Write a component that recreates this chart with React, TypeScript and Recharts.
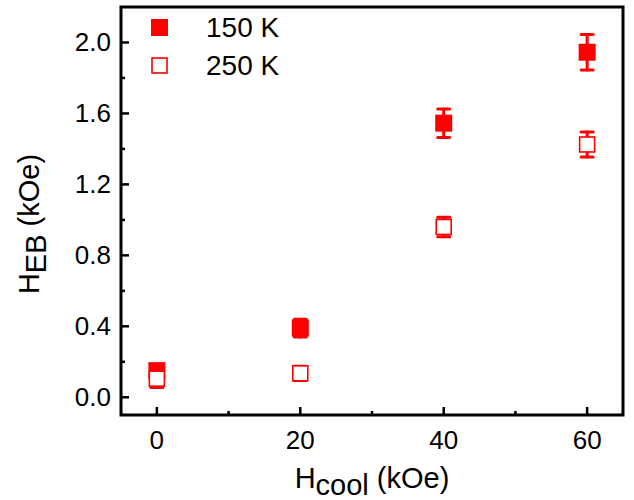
import { ScatterChart, Scatter, XAxis, YAxis, ErrorBar, ReferenceArea, Legend, Label } from 'recharts'

const hCool = [0, 20, 40, 60]
const heb150 = [0.15, 0.39, 1.545, 1.945]
const err150 = [0.03, 0.05, 0.08, 0.1]
const heb250 = [0.105, 0.135, 0.96, 1.425]
const err250 = [0.05, 0.04, 0.055, 0.07]

const xTicks = [0, 10, 20, 30, 40, 50, 60]
const xMajor = [0, 20, 40, 60]
const yTicks = [0, 0.2, 0.4, 0.6, 0.8, 1.0, 1.2, 1.4, 1.6, 1.8, 2.0]
const yMajor = [0, 0.4, 0.8, 1.2, 1.6, 2.0]

const data150 = hCool.map((x, i) => ({ x, y: heb150[i], err: err150[i] }))
const data250 = hCool.map((x, i) => ({ x, y: heb250[i], err: err250[i] }))

const RED = '#ff0000'
const FONT = '"Liberation Sans", Arial, sans-serif'

const FilledSquare = (p: any) => (
  <rect x={p.cx - 8.5} y={p.cy - 8.5} width={17} height={17} fill={RED} />
)
const OpenSquare = (p: any) => (
  <rect x={p.cx - 7.5} y={p.cy - 7.5} width={15} height={15} fill="#fff" stroke={RED} strokeWidth={1.6} />
)

const XTick = (props: any) => {
  const { x, y, payload } = props
  const major = xMajor.includes(payload.value)
  return (
    <g>
      <line x1={x} y1={y} x2={x} y2={y - (major ? 8 : 4)} stroke="#000" strokeWidth={2.5} />
      {major && (
        <text x={x} y={y + 34} textAnchor="middle" fontSize={26} fill="#000">
          {payload.value}
        </text>
      )}
    </g>
  )
}

const YTick = (props: any) => {
  const { x, y, payload } = props
  const major = yMajor.some((v) => Math.abs(v - payload.value) < 1e-6)
  return (
    <g>
      <line x1={x} y1={y} x2={x + (major ? 8 : 4)} y2={y} stroke="#000" strokeWidth={2.5} />
      {major && (
        <text x={x - 10} y={y + 9} textAnchor="end" fontSize={26} fill="#000">
          {payload.value.toFixed(1)}
        </text>
      )}
    </g>
  )
}

const legendItems = [
  { name: '150 K', filled: true },
  { name: '250 K', filled: false },
]

const LegendBox = () => (
  <div style={{ fontFamily: FONT, fontSize: 28, color: '#000' }}>
    {legendItems.map((it) => (
      <div key={it.name} style={{ display: 'flex', alignItems: 'center', height: 38 }}>
        <svg width={56} height={20}>
          {it.filled ? (
            <rect x={1} y={1} width={17} height={17} fill={RED} />
          ) : (
            <rect x={2} y={2} width={15} height={15} fill="#fff" stroke={RED} strokeWidth={1.6} />
          )}
        </svg>
        <span>{it.name}</span>
      </div>
    ))}
  </div>
)

export default function App() {
  return (
    <div style={{ position: 'absolute', left: 0, top: 0, background: '#fff' }}>
      <ScatterChart
        width={634}
        height={500}
        margin={{ top: 7, right: 11, bottom: 0, left: 0 }}
        style={{ fontFamily: FONT }}
      >
        <XAxis
          type="number"
          dataKey="x"
          domain={[-5, 65]}
          ticks={xTicks}
          interval={0}
          tickSize={0}
          tickMargin={0}
          axisLine={false}
          tickLine={false}
          tick={<XTick />}
          height={85}
        >
          <Label
            content={(p: any) => {
              const vb = p.viewBox
              return (
                <text x={vb.x + vb.width / 2} y={vb.y + 73} textAnchor="middle" fontSize={29} fill="#000">
                  H<tspan dy={7}>cool</tspan>
                  <tspan dy={-7}> (kOe)</tspan>
                </text>
              )
            }}
          />
        </XAxis>
        <YAxis
          type="number"
          dataKey="y"
          domain={[-0.1, 2.2]}
          ticks={yTicks}
          interval={0}
          tickSize={0}
          tickMargin={0}
          axisLine={false}
          tickLine={false}
          tick={<YTick />}
          width={121}
        >
          <Label
            content={() => (
              <text x={39} y={224} textAnchor="middle" fontSize={29} fill="#000" transform="rotate(-90, 39, 224)">
                H<tspan dy={7}>EB</tspan>
                <tspan dy={-7}> (kOe)</tspan>
              </text>
            )}
          />
        </YAxis>
        <Legend
          layout="horizontal"
          verticalAlign="middle"
          align="center"
          content={<LegendBox />}
          wrapperStyle={{ left: 150, top: 9, width: 'auto' }}
        />
        <Scatter name="150 K" data={data150} shape={FilledSquare} isAnimationActive={false}>
          <ErrorBar dataKey="err" direction="y" width={6} stroke={RED} strokeWidth={3} strokeLinecap="round" />
        </Scatter>
        <Scatter name="250 K" data={data250} shape={OpenSquare} isAnimationActive={false}>
          <ErrorBar dataKey="err" direction="y" width={6} stroke={RED} strokeWidth={3} strokeLinecap="round" />
        </Scatter>
        <ReferenceArea x1={-5} x2={65} y1={-0.1} y2={2.2} fill="none" stroke="#000" strokeWidth={3} />
      </ScatterChart>
    </div>
  )
}
